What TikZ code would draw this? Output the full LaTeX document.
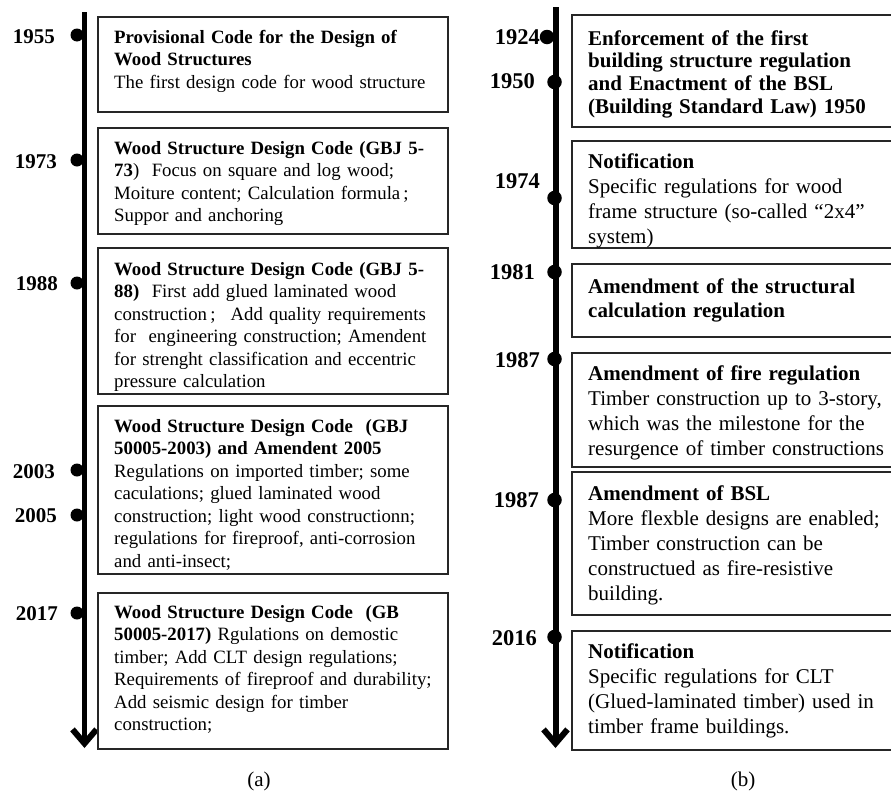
\documentclass[tikz,border=0pt]{standalone}
\usepackage{fontspec}
\setmainfont{Liberation Serif}
\usetikzlibrary{arrows.meta,fit}
\newcommand\tlst{\rule{0pt}{16pt}}
\newcommand\trst{\rule{0pt}{17pt}}
\begin{document}
\begin{tikzpicture}[x=1pt,y=-1pt,
  axisline/.style={line width=5pt,draw=black,-{Straight Barb[length=14pt,width=24pt,line width=6pt]}},
  ydot/.style={circle,fill=black,inner sep=0pt,minimum size=13pt},
  ydotr/.style={circle,fill=black,inner sep=0pt,minimum size=14.5pt},
  yrl/.style={font=\bfseries\fontsize{21}{21}\selectfont,anchor=base east,inner sep=0pt},
  yrr/.style={font=\bfseries\fontsize{22.5}{22.5}\selectfont,anchor=base east,inner sep=0pt},
  tbox/.style={draw=black!85,line width=1.3pt,inner sep=0pt},
  ltext/.style={font=\fontsize{18.8}{22.5}\selectfont,anchor=north west,inner sep=0pt,align=left,text width=345pt},
  rtext/.style={font=\fontsize{21}{25}\selectfont,anchor=north west,inner sep=0pt,align=left,text width=330pt},
  captext/.style={font=\fontsize{21}{21}\selectfont,anchor=base,inner sep=0pt}]
\useasboundingbox (0,0) rectangle (891,790);
\clip (0,0) rectangle (891,790);
\fill[white] (0,0) rectangle (891,790);

% ---------------- (a) ----------------
\coordinate (la0) at (84.5,12);
\coordinate (la1) at (84.5,748);
\draw[axisline] (la0) -- (la1);
\node[ydot] (ld1) at (77,35) {};
\node[ydot] (ld2) at (77,160) {};
\node[ydot] (ld3) at (77,283) {};
\node[ydot] (ld4) at (77,470) {};
\node[ydot] (ld5) at (77,515) {};
\node[ydot] (ld6) at (77,613) {};
\node[yrl] (ly1) at (55,43) {1955};
\node[yrl] (ly2) at (57,168) {1973};
\node[yrl] (ly3) at (58,290) {1988};
\node[yrl] (ly4) at (55,478) {2003};
\node[yrl] (ly5) at (57,522) {2005};
\node[yrl] (ly6) at (58,620) {2017};

\node[tbox,fit={(98,17)(448,112)}] (lb1) {};
\node[tbox,fit={(98,128)(448,234)}] (lb2) {};
\node[tbox,fit={(98,248)(448,394)}] (lb3) {};
\node[tbox,fit={(98,406)(448,574)}] (lb4) {};
\node[tbox,fit={(98,593)(448,749)}] (lb5) {};

\node[ltext] (lt1) at (114,27) {\tlst\textbf{Provisional Code for the Design of}\\
\textbf{Wood Structures}\\
The first design code for wood structure};
\node[ltext] (lt2) at (114,138) {\tlst\textbf{Wood Structure Design Code (GBJ 5-}\\
\textbf{73})\ \ Focus on square and log wood;\\
Moiture content; Calculation formula\,;\\
Suppor and anchoring};
\node[ltext] (lt3) at (114,259) {\tlst\textbf{Wood Structure Design Code (GBJ 5-}\\
\textbf{88)}\ \ First add glued laminated wood\\
construction\,;\hspace{0.8em}Add quality requirements\\
for\ \ engineering construction; Amendent\\
for strenght classification and eccentric\\
pressure calculation};
\node[ltext] (lt4) at (114,416) {\tlst\textbf{Wood Structure Design Code\ \ (GBJ}\\
\textbf{50005-2003) and Amendent 2005}\\
Regulations on imported timber; some\\
caculations; glued laminated wood\\
construction; light wood constructionn;\\
regulations for fireproof, anti-corrosion\\
and anti-insect;};
\node[ltext] (lt5) at (114,602) {\tlst\textbf{Wood Structure Design Code\ \ (GB}\\
\textbf{50005-2017)} Rgulations on demostic\\
timber; Add CLT design regulations;\\
Requirements of fireproof and durability;\\
Add seismic design for timber\\
construction;};

\node[captext] (capa) at (259,786) {(a)};

% ---------------- (b) ----------------
\coordinate (ra0) at (555.5,7);
\coordinate (ra1) at (555.5,748);
\draw[axisline,line width=6pt] (ra0) -- (ra1);
\node[ydotr] (rd1) at (547,37) {};
\node[ydotr] (rd2) at (554.5,82) {};
\node[ydotr] (rd3) at (554.5,198) {};
\node[ydotr] (rd4) at (554.5,272) {};
\node[ydotr] (rd5) at (554.5,359) {};
\node[ydotr] (rd6) at (554.5,500) {};
\node[ydotr] (rd7) at (554.5,637) {};
\node[yrr] (ry1) at (540,44) {1924};
\node[yrr] (ry2) at (535,88) {1950};
\node[yrr] (ry3) at (540,188) {1974};
\node[yrr] (ry4) at (535,279) {1981};
\node[yrr] (ry5) at (540,367) {1987};
\node[yrr] (ry6) at (539,507) {1987};
\node[yrr] (ry7) at (537,645) {2016};

\node[tbox,fit={(572,15)(895,127)}] (rb1) {};
\node[tbox,fit={(572,141)(895,248)}] (rb2) {};
\node[tbox,fit={(572,264)(895,337)}] (rb3) {};
\node[tbox,fit={(572,353)(895,467)}] (rb4) {};
\node[tbox,fit={(572,472)(895,615)}] (rb5) {};
\node[tbox,fit={(572,631)(895,750)}] (rb6) {};

\node[rtext,font=\bfseries\fontsize{21}{22.7}\selectfont] (rt1) at (588,28) {\trst Enforcement of the first\\
building structure regulation\\
and Enactment of the BSL\\
(Building Standard Law) 1950};
\node[rtext] (rt2) at (588,151) {\trst\textbf{Notification}\\
Specific regulations for wood\\
frame structure (so-called “2x4”\\
system)};
\node[rtext,font=\bfseries\fontsize{21}{24}\selectfont] (rt3) at (588,276) {\trst Amendment of the structural\\
calculation regulation};
\node[rtext] (rt4) at (588,363) {\trst\textbf{Amendment of fire regulation}\\
Timber construction up to 3-story,\\
which was the milestone for the\\
resurgence of timber constructions};
\node[rtext] (rt5) at (588,483) {\trst\textbf{Amendment of BSL}\\
More flexble designs are enabled;\\
Timber construction can be\\
constructued as fire-resistive\\
building.};
\node[rtext] (rt6) at (588,641) {\trst\textbf{Notification}\\
Specific regulations for CLT\\
(Glued-laminated timber) used in\\
timber frame buildings.};

\node[captext] (capb) at (743,786) {(b)};
\end{tikzpicture}
\end{document}
